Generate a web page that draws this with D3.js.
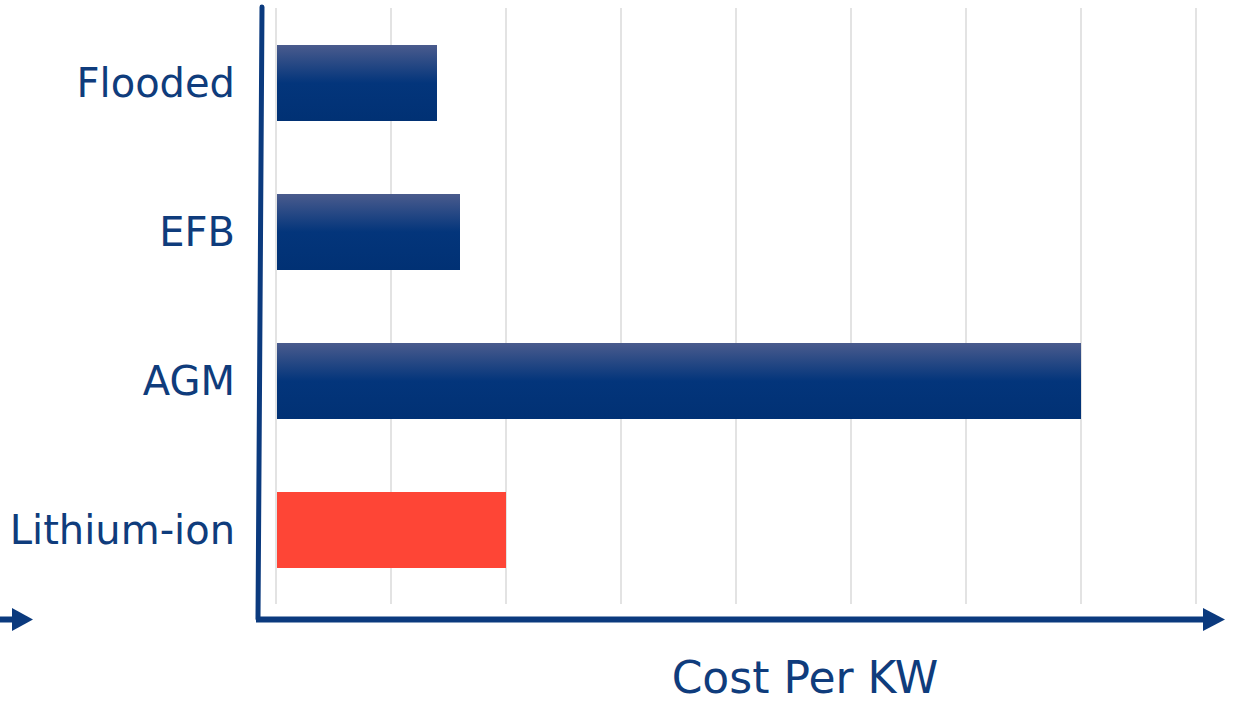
<!DOCTYPE html>
<html>
<head>
<meta charset="utf-8">
<script src="https://cdn.jsdelivr.net/npm/d3@7"></script>
<style>
  html, body { margin: 0; padding: 0; background: #fff; }
  svg { display: block; }
</style>
</head>
<body>
<svg id="chart" width="1236" height="705"></svg>
<script>
const categories = ["Flooded", "EFB", "AGM", "Lithium-ion"];
const values = [1.4, 1.6, 7.0, 2.0];
const highlight = ["Lithium-ion"];
const gridTicks = [0, 1, 2, 3, 4, 5, 6, 7, 8];
const axisTitle = "Cost Per KW";

const svg = d3.select("#chart");
const navy = "#0b3a7e";
const textColor = "#0f3c7c";
const font = "DejaVu Sans, sans-serif";

const x = d3.scaleLinear().domain([0, 8]).range([276, 1196]);
const y = d3.scaleBand().domain(categories).range([8.5, 604.5])
  .paddingInner(0.49).paddingOuter(0.245);

const defs = svg.append("defs");
const grad = defs.append("linearGradient").attr("id", "barGrad")
  .attr("x1", 0).attr("y1", 0).attr("x2", 0).attr("y2", 1);
grad.append("stop").attr("offset", "0%").attr("stop-color", "#4a5b8d");
grad.append("stop").attr("offset", "50%").attr("stop-color", "#03357b");
grad.append("stop").attr("offset", "100%").attr("stop-color", "#013174");

// gridlines
svg.append("g").selectAll("line").data(gridTicks).join("line")
  .attr("x1", d => x(d)).attr("x2", d => x(d))
  .attr("y1", 8).attr("y2", 604)
  .attr("stroke", "#e3e3e3").attr("stroke-width", 2);

// bars
svg.append("g").selectAll("rect").data(categories).join("rect")
  .attr("x", x(0) + 1)
  .attr("y", d => y(d))
  .attr("width", (d, i) => x(values[i]) - x(0) - 1)
  .attr("height", y.bandwidth())
  .attr("fill", d => highlight.includes(d) ? "#fe4536" : "url(#barGrad)");

// category labels
svg.append("g").selectAll("text").data(categories).join("text")
  .attr("x", 235)
  .attr("y", d => y(d) + y.bandwidth() / 2)
  .attr("dy", "0.36em")
  .attr("text-anchor", "end")
  .attr("font-family", font)
  .attr("font-size", 40)
  .attr("fill", textColor)
  .text(d => d);

// y axis line (slightly slanted)
svg.append("line")
  .attr("x1", 262).attr("y1", 7)
  .attr("x2", 258).attr("y2", 619)
  .attr("stroke", navy).attr("stroke-width", 5).attr("stroke-linecap", "round");

// x axis arrow
svg.append("line")
  .attr("x1", 256).attr("y1", 619.5)
  .attr("x2", 1206).attr("y2", 619.5)
  .attr("stroke", navy).attr("stroke-width", 6);
svg.append("path")
  .attr("d", "M1203,608 L1225,619.5 L1203,631 Z")
  .attr("fill", navy);

// left stray arrow
svg.append("line")
  .attr("x1", 0).attr("y1", 619.5).attr("x2", 14).attr("y2", 619.5)
  .attr("stroke", navy).attr("stroke-width", 6);
svg.append("path")
  .attr("d", "M12,608 L33,619.5 L12,631 Z")
  .attr("fill", navy);

// axis title
svg.append("text")
  .attr("x", 805).attr("y", 693)
  .attr("text-anchor", "middle")
  .attr("font-family", font)
  .attr("font-size", 44)
  .attr("fill", textColor)
  .text(axisTitle);
</script>
</body>
</html>
